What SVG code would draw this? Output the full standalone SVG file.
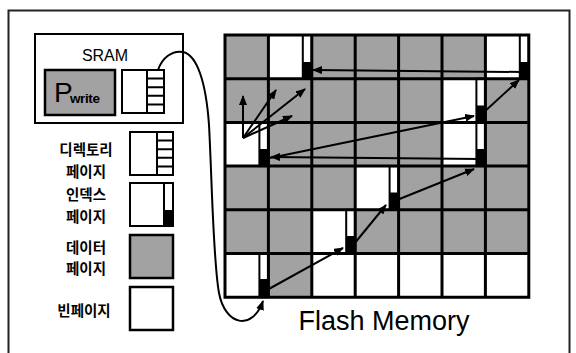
<svg xmlns="http://www.w3.org/2000/svg" width="576" height="353" viewBox="0 0 576 353">
<style>
.frame{fill:#fff;stroke:#222;stroke-width:2}
.box{fill:#fff;stroke:#000;stroke-width:2}
.gray{fill:#a2a2a2}
.white{fill:#fff}
.gbox{fill:#a2a2a2;stroke:#000;stroke-width:2.5}
.wbox{fill:#fff;stroke:#000;stroke-width:2.5}
.thin{stroke:#000;stroke-width:2;fill:none}
.bar{fill:#fff;stroke:#000;stroke-width:2}
.blk{fill:#000}
.grid{stroke:#000;stroke-width:3;fill:none}
.ko{font-family:"Noto Sans CJK KR","Noto Sans",sans-serif;font-weight:bold;font-size:14.5px;fill:#000;text-anchor:middle}
.en{font-family:"Liberation Sans",Arial,sans-serif;fill:#000}
.conn{stroke:#000;stroke-width:2;fill:none}
</style>
<defs>
<marker id="ah" viewBox="0 0 10 8" refX="9" refY="4" markerWidth="10" markerHeight="8" markerUnits="userSpaceOnUse" orient="auto">
<path d="M0,0 L10,4 L0,8 Z" fill="#000"/>
</marker>
</defs>

<rect class="frame" x="8.5" y="10.5" width="561" height="360"/>

<g id="sram">
<rect class="box" x="35" y="34" width="148" height="89"/>
<text class="en" x="105" y="60.5" font-size="16" text-anchor="middle">SRAM</text>
</g>
<g id="pwrite">
<rect class="gbox" x="45" y="70" width="70" height="45"/>
<text class="en" x="54" y="102" font-size="28">P</text>
<text class="en" x="70" y="103" font-size="13.5" font-weight="bold" letter-spacing="-0.4">write</text>
</g>
<g id="sram-dir">
<rect class="box" x="122" y="70" width="42" height="43"/>
<path class="thin" d="M147,70 V113 M147,78.6 H164 M147,87.2 H164 M147,95.8 H164 M147,104.4 H164"/>
</g>

<g id="legend-dir">
<text class="ko" x="86" y="155">디렉토리</text>
<text class="ko" x="86" y="177">페이지</text>
<rect class="box" x="130" y="132" width="43" height="43"/>
<path class="thin" d="M157,132 V175 M157,140.6 H173 M157,149.2 H173 M157,157.8 H173 M157,166.4 H173"/>
</g>
<g id="legend-index">
<text class="ko" x="86" y="200">인덱스</text>
<text class="ko" x="86" y="222">페이지</text>
<rect class="box" x="130" y="183" width="43" height="43"/>
<rect class="bar" x="164" y="183" width="9" height="43"/>
<rect class="blk" x="164" y="210" width="9" height="16"/>
</g>
<g id="legend-data">
<text class="ko" x="86" y="253">데이터</text>
<text class="ko" x="86" y="274">페이지</text>
<rect class="gbox" x="130" y="235" width="43" height="43"/>
</g>
<g id="legend-empty">
<text class="ko" x="84" y="316">빈페이지</text>
<rect class="wbox" x="130" y="287" width="43" height="43"/>
</g>

<g id="flash">
<rect class="gray" x="225" y="35" width="303.8" height="262.2"/>
<rect class="white" x="311.8" y="253.5" width="217" height="43.7"/>
<g id="idx-1-0"><rect class="white" x="268.4" y="35" width="43.4" height="43.7"/><rect class="bar" x="302.8" y="35" width="9" height="43.7"/><rect class="blk" x="302.8" y="62" width="9" height="16.7"/></g>
<g id="idx-6-0"><rect class="white" x="485.4" y="35" width="43.4" height="43.7"/><rect class="bar" x="519.8" y="35" width="9" height="43.7"/><rect class="blk" x="519.8" y="62" width="9" height="16.7"/></g>
<g id="idx-5-1"><rect class="white" x="442" y="78.7" width="43.4" height="43.7"/><rect class="bar" x="476.4" y="78.7" width="9" height="43.7"/><rect class="blk" x="476.4" y="105.5" width="9" height="16.9"/></g>
<g id="idx-0-2"><rect class="white" x="225" y="122.4" width="43.4" height="43.7"/><rect class="bar" x="259.4" y="122.4" width="9" height="43.7"/><rect class="blk" x="259.4" y="149" width="9" height="17"/></g>
<g id="idx-5-2"><rect class="white" x="442" y="122.4" width="43.4" height="43.7"/><rect class="bar" x="476.4" y="122.4" width="9" height="43.7"/><rect class="blk" x="476.4" y="149" width="9" height="17"/></g>
<g id="idx-3-3"><rect class="white" x="355.2" y="166.1" width="43.4" height="43.7"/><rect class="bar" x="389.6" y="166.1" width="9" height="43.7"/><rect class="blk" x="389.6" y="192.5" width="9" height="17.3"/></g>
<g id="idx-2-4"><rect class="white" x="311.8" y="209.8" width="43.4" height="43.7"/><rect class="bar" x="346.2" y="209.8" width="9" height="43.7"/><rect class="blk" x="346.2" y="236" width="9" height="17.5"/></g>
<g id="idx-0-5"><rect class="white" x="225" y="253.5" width="43.4" height="43.7"/><rect class="bar" x="259.4" y="253.5" width="9" height="43.7"/><rect class="blk" x="259.4" y="279" width="9" height="18.2"/></g>
<path class="grid" d="M225,35 H528.8 V297.2 H225 Z M268.4,35 V297.2 M311.8,35 V297.2 M355.2,35 V297.2 M398.6,35 V297.2 M442,35 V297.2 M485.4,35 V297.2 M225,78.7 H528.8 M225,122.4 H528.8 M225,166.1 H528.8 M225,209.8 H528.8 M225,253.5 H528.8"/>
<text class="en" x="384" y="330" font-size="27" text-anchor="middle">Flash Memory</text>
</g>

<g id="connectors">
<path class="conn" stroke-width="1.6" d="M158,70 C162,58 172,50 183,52 C197,55 206,82 209,125 C212,180 213,260 219,293 C225,325 252,332 263,301" marker-end="url(#ah)"/>
<path class="conn" d="M267,290 L343,248" marker-end="url(#ah)"/>
<path class="conn" d="M354,244 L386,205" marker-end="url(#ah)"/>
<path class="conn" d="M397,200 L474,169" marker-end="url(#ah)"/>
<path class="conn" d="M480,159 L271,157" marker-end="url(#ah)"/>
<path class="conn" d="M270,158 L474,116" marker-end="url(#ah)"/>
<path class="conn" d="M483,113 L519,80" marker-end="url(#ah)"/>
<path class="conn" d="M522,72 L313,70" marker-end="url(#ah)"/>
<path class="conn" d="M243,138 L243,96" marker-end="url(#ah)"/>
<path class="conn" d="M243,138 L276,90" marker-end="url(#ah)"/>
<path class="conn" d="M243,138 L305,89" marker-end="url(#ah)"/>
<path class="conn" d="M243,138 L292,116" marker-end="url(#ah)"/>
</g>
</svg>
